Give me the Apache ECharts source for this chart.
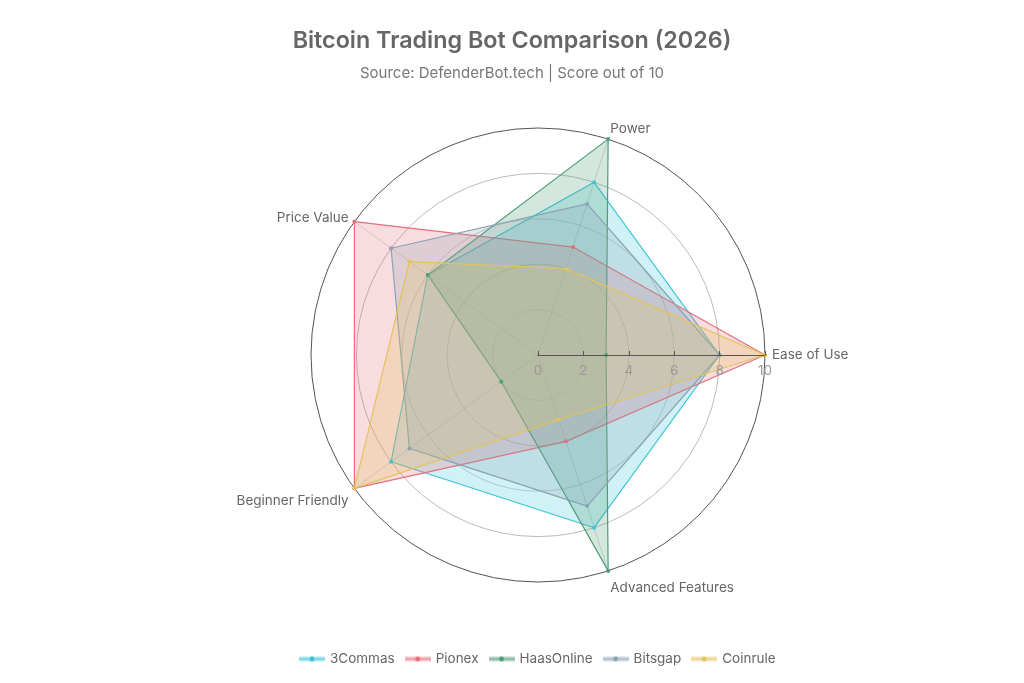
<!DOCTYPE html>
<html><head><meta charset="utf-8">
<script src="https://cdn.jsdelivr.net/npm/echarts@6/dist/echarts.min.js"></script>
<style>html,body{margin:0;padding:0;background:#fff}#c{width:1024px;height:683px}</style>
</head><body><div id="c"></div>
<script>
const indicators = ['Ease of Use', 'Power', 'Price Value', 'Beginner Friendly', 'Advanced Features'];
const seriesNames = ['3Commas', 'Pionex', 'HaasOnline', 'Bitsgap', 'Coinrule'];
const threeCommas = [8, 8, 6, 8, 8];
const pionex = [10, 5, 10, 10, 4];
const haasOnline = [3, 10, 6, 2, 10];
const bitsgap = [8, 7, 8, 7, 7];
const coinrule = [10, 4, 7, 10, 3];
const tickLabels = [0, 2, 4, 6, 8, 10];
const values = [threeCommas, pionex, haasOnline, bitsgap, coinrule];
const rgb = [[60, 196, 214], [229, 112, 124], [79, 158, 120], [138, 163, 180], [227, 195, 92]];
const colors = rgb.map(c => `rgb(${c.join(',')})`);
const fills = rgb.map(c => `rgba(${c.join(',')},0.35)`);
const FONT = 'Inter';

function legendIcon(c) {
  const cv = document.createElement('canvas');
  cv.width = 26; cv.height = 8;
  const g = cv.getContext('2d');
  g.fillStyle = `rgba(${c.join(',')},0.4)`;
  g.fillRect(0, 1.5, 26, 5);
  g.strokeStyle = `rgba(${c.join(',')},0.7)`;
  g.lineWidth = 1.2;
  g.beginPath(); g.moveTo(0, 4); g.lineTo(26, 4); g.stroke();
  g.fillStyle = `rgb(${c.join(',')})`;
  g.beginPath(); g.arc(13, 4, 2.4, 0, Math.PI * 2); g.fill();
  return 'image://' + cv.toDataURL();
}

const namePad = {
  'Ease of Use': [0, 0, 0, 0],
  'Power': [0, 0, 7, 0],
  'Price Value': [0, 0, 0, 0],
  'Beginner Friendly': [16, 0, 0, 0],
  'Advanced Features': [20, 0, 0, 0]
};
const rich = {};
indicators.forEach((n, i) => {
  rich['n' + i] = {fontFamily: FONT, fontSize: 13.5, color: '#666', padding: namePad[n]};
});

const chart = echarts.init(document.getElementById('c'));
chart.setOption({
  backgroundColor: '#fff',
  title: {
    text: 'Bitcoin Trading Bot Comparison (2026)',
    subtext: 'Source: DefenderBot.tech | Score out of 10',
    left: 'center', top: 24, itemGap: 14,
    textStyle: {fontFamily: FONT, fontSize: 23.3, fontWeight: 600, color: '#666'},
    subtextStyle: {fontFamily: FONT, fontSize: 15, color: '#777'}
  },
  legend: {
    bottom: 12, left: 294, itemWidth: 26, itemHeight: 8, itemGap: 10,
    textStyle: {fontFamily: FONT, fontSize: 13.5, color: '#666'},
    data: seriesNames.map((n, i) => ({name: n, icon: legendIcon(rgb[i])}))
  },
  radar: {
    center: [538, 355], radius: 227, startAngle: 0, shape: 'circle', splitNumber: 5,
    indicator: indicators.map(n => ({name: n, min: 0, max: 10})),
    axisName: {
      fontFamily: FONT, fontSize: 13.5, color: '#666',
      formatter: (name) => `{n${indicators.indexOf(name)}|${name}}`,
      rich
    },
    nameGap: 7,
    splitLine: {lineStyle: {color: ['#ddd', '#ddd', '#ccc', '#ccc', '#bbb', '#555'], width: 1}},
    splitArea: {show: false},
    axisLine: {lineStyle: {color: 'rgba(0,0,0,0.15)'}}
  },
  polar: {center: [538, 355], radius: 227},
  angleAxis: {startAngle: 0, min: 0, max: 360, show: false},
  radiusAxis: {
    z: 10,
    min: 0, max: 10, interval: 2,
    axisLine: {show: true, lineStyle: {color: '#555', width: 1}},
    axisTick: {show: true, length: 4, inside: false, lineStyle: {color: '#555'}},
    axisLabel: {fontFamily: FONT, fontSize: 13.5, color: '#999', margin: -9, verticalAlign: 'top', align: 'center', formatter: v => tickLabels.includes(v) ? String(v) : ''},
    splitLine: {show: false}
  },
  series: seriesNames.map((name, i) => ({
    name, type: 'radar', symbol: 'circle', symbolSize: 4,
    lineStyle: {color: colors[i], width: 1.2},
    itemStyle: {color: colors[i]},
    areaStyle: {color: fills[i]},
    data: [{value: values[i], name}]
  }))
});
</script></body></html>
